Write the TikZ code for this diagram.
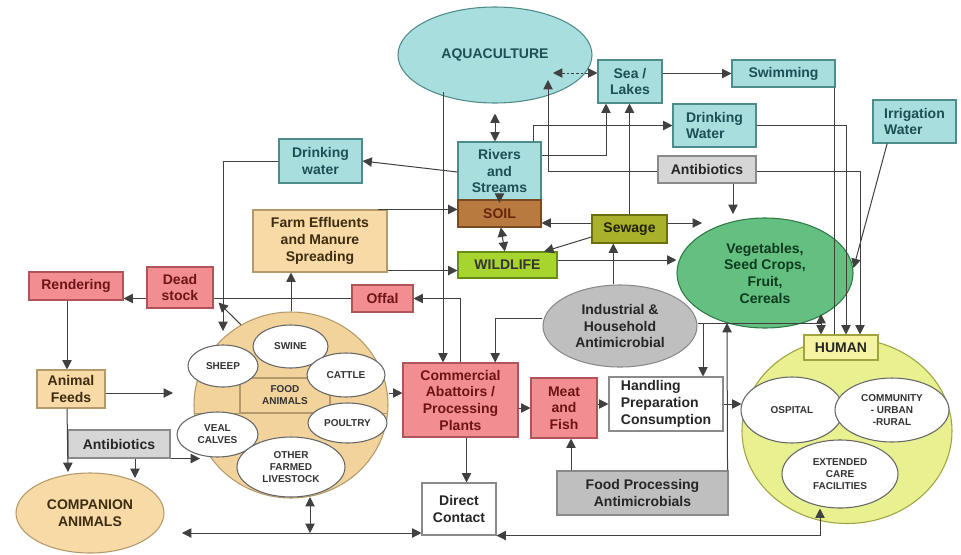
\documentclass[tikz,border=0pt]{standalone}
\usepackage{fontspec}
\setmainfont{Liberation Sans}
\usetikzlibrary{shapes.geometric,arrows.meta,backgrounds,calc}
\definecolor{tealF}{HTML}{A8DEDE}\definecolor{tealD}{HTML}{4E8C8C}\definecolor{tealT}{HTML}{1E4E56}
\definecolor{pinkF}{HTML}{F28E92}\definecolor{pinkD}{HTML}{B0545A}\definecolor{pinkT}{HTML}{6E1418}
\definecolor{tanF}{HTML}{F7DAA6}\definecolor{tanD}{HTML}{B49A6A}\definecolor{tanT}{HTML}{3E2C10}
\definecolor{faF}{HTML}{F2D39B}
\definecolor{greyF}{HTML}{D6D6D6}\definecolor{greyD}{HTML}{8A8A8A}\definecolor{grey2F}{HTML}{BFBFBF}
\definecolor{soilF}{HTML}{B87A3E}\definecolor{soilD}{HTML}{7A4A20}\definecolor{soilT}{HTML}{6A2410}
\definecolor{sewF}{HTML}{A9B02A}\definecolor{sewD}{HTML}{6C7014}
\definecolor{wildF}{HTML}{A8D42E}\definecolor{wildD}{HTML}{6A8C14}
\definecolor{vegF}{HTML}{64C080}\definecolor{vegD}{HTML}{2E7A46}\definecolor{vegT}{HTML}{0E3A1E}
\definecolor{humF}{HTML}{E9F090}\definecolor{humD}{HTML}{A0A440}\definecolor{humbF}{HTML}{F6F3A2}
\definecolor{lineC}{HTML}{404040}
\begin{document}
\begin{tikzpicture}[x=0.75pt,y=-0.75pt,
  base/.style={draw, line width=0.8pt, align=center, inner sep=1pt, font=\bfseries\fontsize{10.5}{12.5}\selectfont},
  sz/.style 2 args={minimum width=#1*0.75pt, minimum height=#2*0.75pt},
  teal/.style={base, fill=tealF, draw=tealD, text=tealT},
  pink/.style={base, fill=pinkF, draw=pinkD, text=pinkT},
  tanbox/.style={base, fill=tanF, draw=tanD, text=tanT},
  greybox/.style={base, fill=greyF, draw=greyD, text=black!85},
  wbox/.style={base, fill=white, draw=greyD, text=black!85},
  small/.style={base, ellipse, inner sep=0pt, fill=white, draw=black!60, text=black!80, font=\bfseries\fontsize{7.5}{9}\selectfont},
  ln/.style={draw=lineC, line width=0.75pt},
  ar/.style={ln, -{Triangle[length=7pt,width=7pt]}},
  dar/.style={ln, {Triangle[length=7pt,width=7pt]}-{Triangle[length=7pt,width=7pt]}}]
\useasboundingbox (0,0) rectangle (961,554);

% ---- top / water
\node[teal, ellipse, inner sep=0pt, sz={194}{96}] (aqua) at (495,55) {AQUACULTURE};
\node[teal, sz={64}{43}] (sea) at (630,81.5) {Sea /\\Lakes};
\node[teal, sz={103}{27}] (swim) at (783.5,73.5) {Swimming};
\node[teal, sz={83}{43}, align=left] (dwr) at (714.5,125.5) {Drinking\\Water};
\node[teal, sz={83}{43}, align=left] (irr) at (914.5,121.5) {Irrigation\\Water};
\node[greybox, sz={98}{27}] (anti1) at (707,169.5) {Antibiotics};
\node[teal, sz={83}{58}] (riv) at (499.5,171) {Rivers\\and\\Streams};
\node[base, fill=soilF, draw=soilD, text=soilT, sz={83}{27}] (soil) at (499.5,213.5) {SOIL};
\node[base, fill=sewF, draw=sewD, text=black!70!sewD, sz={75}{28}] (sew) at (629.5,229) {Sewage};
\node[base, fill=wildF, draw=wildD, text=black!80, sz={99}{26}] (wild) at (507.5,265) {WILDLIFE};
\node[teal, sz={83}{44}] (dwl) at (320.5,161) {Drinking\\water};
\node[tanbox, sz={134}{62}] (farm) at (320,241) {Farm Effluents\\and Manure\\Spreading};

% ---- left
\node[pink, sz={94}{28}] (rend) at (76,286) {Rendering};
\node[pink, sz={66}{41}] (dead) at (180,287.5) {Dead\\stock};
\node[pink, sz={61}{27}] (offal) at (382.5,298.5) {Offal};
\node[tanbox, sz={68}{38}] (feeds) at (71,389) {Animal\\Feeds};
\node[greybox, sz={102}{28}] (anti2) at (119,444) {Antibiotics};
\node[tanbox, ellipse, inner sep=0pt, sz={148}{80}] (comp) at (90,513) {COMPANION\\ANIMALS};

% ---- food animals
\node[ellipse, draw=tanD, fill=faF, line width=0.8pt, sz={194}{186}] (fa) at (291,405) {};
\begin{scope}
  \clip (fa.center) ellipse [x radius=72.75pt, y radius=69.75pt];
  \draw[draw=tanD, line width=0.7pt] (150,378) -- (450,378) (150,413) -- (450,413);
\end{scope}
\node[base, fill=faF, draw=tanD, text=black!80, font=\bfseries\fontsize{7.5}{9}\selectfont, sz={90}{35}] (food) at (285,395.5) {FOOD\\ANIMALS};
\node[small, sz={75}{43}] (swine) at (290.5,346.5) {SWINE};
\node[small, sz={70}{42}] (sheep) at (223,366) {SHEEP};
\node[small, sz={78}{44}] (cattle) at (346,375) {CATTLE};
\node[small, sz={81}{45}] (veal) at (217.5,434.5) {VEAL\\CALVES};
\node[small, sz={79}{40}] (poultry) at (347.5,423) {POULTRY};
\node[small, sz={108}{60}] (other) at (291,467) {OTHER\\FARMED\\LIVESTOCK};

% ---- middle
\node[pink, sz={115}{74}] (comm) at (460.5,400) {Commercial\\Abattoirs /\\Processing\\Plants};
\node[pink, sz={66}{60}] (meat) at (564,408) {Meat\\and\\Fish};
\node[wbox, sz={114}{54}, align=left] (hand) at (666,404) {Handling\\Preparation\\Consumption};
\node[base, ellipse, inner sep=0pt, fill=grey2F, draw=greyD, text=black!85, sz={154}{82}] (ind) at (620,326) {Industrial \&\\Household\\Antimicrobial};
\node[base, ellipse, inner sep=0pt, fill=vegF, draw=vegD, text=vegT, sz={176}{110}] (veg) at (765,273) {Vegetables,\\Seed Crops,\\Fruit,\\Cereals};
\node[base, fill=grey2F, draw=greyD, text=black!85, sz={171}{44}] (fpa) at (642.5,493) {Food Processing\\Antimicrobials};
\node[wbox, sz={74}{52}] (dc) at (459,509) {Direct\\Contact};

% ---- human
\node[ellipse, draw=humD, fill=humF, line width=0.8pt, sz={210}{185}] (hc) at (847,431) {};
\node[base, fill=humbF, draw=humD, text=black!85, sz={74}{25}] (hum) at (841,347.5) {HUMAN};
\node[small, sz={102}{66}] (osp) at (792,410) {OSPITAL};
\node[small, sz={114}{64}] (commu) at (892,410) {COMMUNITY\\- URBAN\\-RURAL};
\node[small, sz={116}{68}] (ext) at (840,474) {EXTENDED\\CARE\\FACILITIES};

% ---- free ends
\coordinate (aqA) at (553,73);
\coordinate (aqB) at (548,80);
\coordinate (aqC) at (548,171);
\coordinate (aqD) at (443,92);
\coordinate (vegA) at (702,223);
\coordinate (vegB) at (733,214);
\coordinate (vegC) at (821,314);
\coordinate (vegD) at (727,323);
\coordinate (indB) at (703,323);
\coordinate (faA) at (223,331);
\coordinate (faB) at (173,393);
\coordinate (faC) at (200,458);
\coordinate (faD) at (310,497);
\coordinate (botA) at (310,533);
\coordinate (compA) at (68,472);
\coordinate (compB) at (135,478);
\coordinate (compC) at (182,533);
\coordinate (farmA) at ([xshift=-7.5pt]farm.north east);
\coordinate (farmB) at ([yshift=1.5pt]farm.south east);
\coordinate (sewA) at ([yshift=4.5pt]sew.west);
\coordinate (sewB) at ([yshift=4.5pt]sew.east);
\coordinate (wildA) at ([yshift=3.75pt]wild.east);
\coordinate (indA) at ([xshift=-5pt]ind.north);
\coordinate (indW) at ([yshift=6pt]ind.west);
\coordinate (indE) at ([yshift=2.25pt]ind.east);
\coordinate (fpaA) at ([xshift=-0.75pt]fpa.north east);
\coordinate (meatS) at ([xshift=5.25pt]meat.south);
\coordinate (deadA) at ([xshift=3.75pt,yshift=4.5pt]dead.south east);
\coordinate (feedsN) at ([xshift=-3pt]feeds.north);
\coordinate (feedsS) at ([xshift=-3pt]feeds.south);
\coordinate (commS) at ([xshift=4.5pt]comm.south);
\coordinate (swimC) at ([xshift=-0.75pt]swim.south east);
\coordinate (aquaS) at ([yshift=-7.5pt]aqua.south);

% ---- connector passing behind the Antibiotics box
\begin{pgfonlayer}{background}
  \fill[white] (0,0) rectangle (961,554);
  \draw[ar] (aqC) -| ([xshift=14.25pt]hum.north);
\end{pgfonlayer}

% ---- connectors
\draw[ar] (aqC) -- (aqB);
\draw[dar] (aquaS) -- (aquaS |- riv.north);
\draw[dar, dash pattern=on 2pt off 1.5pt] (aqA) -- (aqA -| sea.west);
\draw[ar] (sea.east |- swim.west) -- (swim.west);
\draw[ln] (swimC) -- (swimC |- hum.north);
\draw[ar] ([xshift=-6pt]riv.north east) |- (dwr.west);
\draw[ar] (riv.east |- 0,155) -| ([xshift=-18pt]sea.south);
\draw[ar] (sew.north) -- (sew.north |- sea.south);
\draw[ar] (riv.west |- 0,172) -- (dwl.east);
\draw[ar] (dwl.west) -| (faA);
\draw[ar] (farmA) -- (farmA -| soil.west);
\draw[ar] (farmB) -- (farmB -| wild.west);
\draw[ar] (fa.north) -- (fa.north |- farm.south);
\draw[ar] ([yshift=3pt]riv.south) -- ([yshift=-2.5pt]soil.north);
\draw[dar] ([xshift=1pt]soil.south) -- ([xshift=-2pt]wild.north);
\draw[ar] (sewA) -- (sewA -| soil.east);
\draw[ar] (sewB) -- (vegA);
\draw[ar] ([yshift=-6pt]sew.west) -- ([xshift=-10pt]wild.north east);
\draw[ar] (wildA) -- (wildA -| veg.west);
\draw[ar] (indA) -- (indA |- sew.south);
\draw[ar] ([xshift=19.5pt]anti1.south) -- (vegB);
\draw[ar] ([xshift=-20.5pt]irr.south) -- ([yshift=3.75pt]veg.east);
\draw[ar] (dwr.east) -| ([xshift=3.75pt]hum.north);
\draw[dar] (vegC) -- (vegC |- hum.north);
\draw[ar] (indW) -| ([xshift=26pt]comm.north);
\draw[ln] (indE) -- (indE -| vegC);
\draw[ar] (indB) -- (indB |- hand.north);
\draw[ar] (fpaA) -- (vegD);
\draw[ar] (meatS |- fpa.north) -- (meatS);
\draw[ar] (meat.east |- hand.west) -- (hand.west);
\draw[ar] (comm.east |- meat.west) -- (meat.west);
\draw[ar] (hand.east) -- (hand.east -| hc.west);
\draw[ar] (fa.east |- 0,393) -- (comm.west |- 0,393);
\draw[ar] (comm.north) |- (offal.east);
\draw[ar] (aqD) -- (aqD |- comm.north);
\draw[ar] (fa.122) -- (deadA);
\draw[ln] (offal.west) -- (offal.west -| dead.east);
\draw[ar] (dead.west |- offal.west) -- (rend.east |- offal.west);
\draw[ar] (feedsN |- rend.south) -- (feedsN);
\draw[ar] (feeds.east |- faB) -- (faB);
\draw[ar] (feedsS) -- (compA);
\draw[ar] ([xshift=12pt]anti2.south) -- (compB);
\draw[ar] (anti2.south east) -- (anti2.south east -| faC);
\draw[dar] (faD) -- (botA);
\draw[dar] (compC) -- (compC -| dc.west);
\draw[dar] (dc.south east) -| ([xshift=-15pt]ext.south);
\draw[ar] (commS) -- (commS |- dc.north);
\end{tikzpicture}
\end{document}
